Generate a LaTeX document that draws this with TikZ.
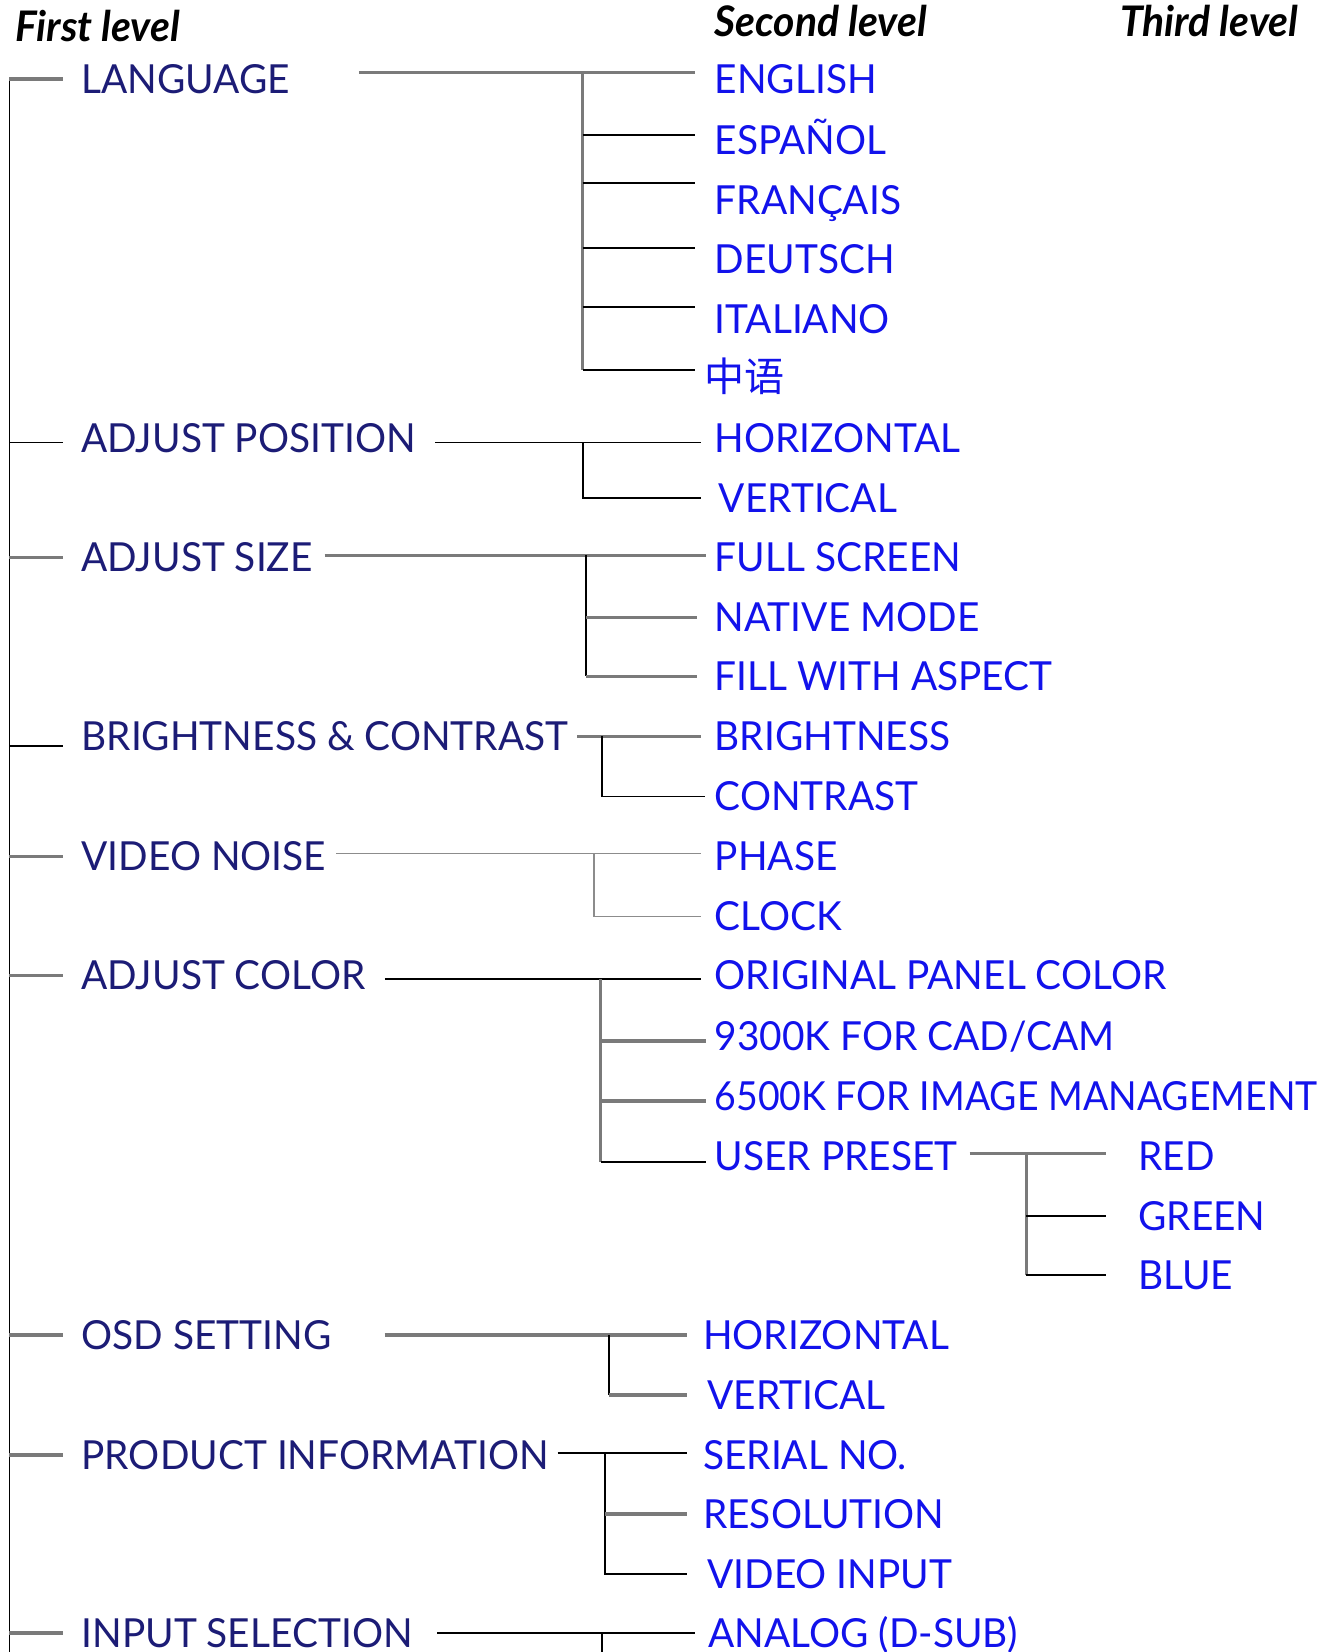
\documentclass[tikz,border=0pt]{standalone}
\usepackage{fontspec}
\setmainfont[FakeStretch=0.97]{Lato}
\newfontfamily\cjk{Noto Sans CJK SC}
\usetikzlibrary{positioning}
\definecolor{navy}{RGB}{28,28,118}
\definecolor{menublue}{RGB}{18,18,235}
\tikzset{
  lvlone/.style={
    anchor=west,
    inner sep=0pt,
    text=navy,
    font=\fontsize{19}{19}\selectfont,
    text height=13.6pt,
    text depth=0pt
  },
  lvltwo/.style={
    lvlone,
    text=menublue
  },
  head/.style={
    anchor=west,
    inner sep=0pt,
    font=\fontsize{20}{20}\selectfont\bfseries\itshape
  },
  gline/.style={draw=black!52, line width=1.6pt},
  bline/.style={draw=black, line width=0.9pt},
  tline/.style={draw=black!45, line width=0.7pt}
}

\begin{document}
\begin{tikzpicture}[x=0.5pt, y=-0.5pt]
\clip (0,0) rectangle (1259,1568);
% --- headings ---
\node[head] (h1) at (14,25) {First level};
\node[head] (h2) at (678,20) {Second level};
\node[head] (h3) at (1063,20) {Third level};

% --- first level ---
\node[lvlone] (lang) at (77,75) {LANGUAGE};
\node[lvlone] (adjpos) at (77,416) {ADJUST POSITION};
\node[lvlone] (adjsize) at (77,529) {ADJUST SIZE};
\node[lvlone] (bc) at (77,699) {BRIGHTNESS \& CONTRAST};
\node[lvlone] (noise) at (77,813) {VIDEO NOISE};
\node[lvlone] (color) at (77,926) {ADJUST COLOR};
\node[lvlone] (osd) at (77,1267) {OSD SETTING};
\node[lvlone] (info) at (77,1381) {PRODUCT INFORMATION};
\node[lvlone] (input) at (77,1550) {INPUT SELECTION};

% --- second level ---
\node[lvltwo] (eng) at (678,75) {ENGLISH};
\node[lvltwo] (esp) at (678,133) {ESPAÑOL};
\node[lvltwo] (fra) at (678,190) {FRANÇAIS};
\node[lvltwo] (deu) at (678,246) {DEUTSCH};
\node[lvltwo] (ita) at (678,303) {ITALIANO};
\node[lvltwo] (chn) at (668,358) {\cjk 中语};
\node[lvltwo] (hor) at (678,416) {HORIZONTAL};
\node[lvltwo] (ver) at (682,473) {VERTICAL};
\node[lvltwo] (full) at (678,529) {FULL SCREEN};
\node[lvltwo] (native) at (678,586) {NATIVE MODE};
\node[lvltwo] (fill) at (678,642) {FILL WITH ASPECT};
\node[lvltwo] (bri) at (678,699) {BRIGHTNESS};
\node[lvltwo] (con) at (678,756) {CONTRAST};
\node[lvltwo] (phase) at (678,813) {PHASE};
\node[lvltwo] (clock) at (678,870) {CLOCK};
\node[lvltwo] (orig) at (678,926) {ORIGINAL PANEL COLOR};
\node[lvltwo] (kcad) at (678,983) {9300K FOR CAD/CAM};
\node[lvltwo] (kimg) at (678,1040) {\addfontfeatures{FakeStretch=0.935}6500K FOR IMAGE MANAGEMENT};
\node[lvltwo] (user) at (678,1097) {USER PRESET};
\node[lvltwo] (osdh) at (667,1267) {HORIZONTAL};
\node[lvltwo] (osdv) at (671,1324) {VERTICAL};
\node[lvltwo] (serial) at (667,1381) {SERIAL NO.};
\node[lvltwo] (res) at (667,1437) {RESOLUTION};
\node[lvltwo] (vin) at (671,1494) {VIDEO INPUT};
\node[lvltwo] (analog) at (672,1550) {ANALOG (D-SUB)};

% --- third level ---
\node[lvltwo] (red) at (1080,1097) {RED};
\node[lvltwo] (green) at (1080,1154) {GREEN};
\node[lvltwo] (blue) at (1080,1210) {BLUE};

% --- junctions ---
\coordinate (trunk) at (9,76);
\coordinate (jlang) at (553,69);
\coordinate (jpos) at (553,420);
\coordinate (jsize) at (556,527);
\coordinate (jbc) at (571,699);
\coordinate (jnoise) at (564,810);
\coordinate (jcolor) at (570,929);
\coordinate (juser) at (974,1095);
\coordinate (josd) at (578,1267);
\coordinate (jinfo) at (574,1379);
\coordinate (jinput) at (571,1550);

% --- trunk and stubs ---
\draw[bline] (trunk) -- ++(0,1540);
\foreach \n in {lang,adjsize,noise,color,osd,info,input}
  \draw[gline] (trunk |- \n.west) -- ([xshift=-8.5pt]\n.west);
\draw[bline] ([yshift=-2pt]trunk |- adjpos.west) -- ([xshift=-8.5pt,yshift=-2pt]adjpos.west);
\draw[bline] ([yshift=-4.5pt]trunk |- bc.west) -- ([xshift=-8.5pt,yshift=-4.5pt]bc.west);

% --- LANGUAGE ---
\draw[gline] ([xshift=32.5pt,yshift=3pt]lang.east) -- ([xshift=-9pt,yshift=3pt]eng.west);
\draw[gline] (jlang) -- ([yshift=3.5pt]jlang |- chn.west);
\foreach \n/\dy in {esp/2.5,fra/8,deu/5.5,ita/6}
  \draw[bline] ([yshift=\dy pt]jlang |- \n.west) -- ([xshift=-9pt,yshift=\dy pt]\n.west);
\draw[bline] ([yshift=3.5pt]jlang |- chn.west) -- ([xshift=-4pt,yshift=3.5pt]chn.west);

% --- ADJUST POSITION ---
\draw[bline] ([xshift=9pt,yshift=-2pt]adjpos.east) -- ([xshift=-6.5pt,yshift=-2pt]hor.west);
\draw[bline] (jpos) |- ([xshift=-8.5pt]ver.west);

% --- ADJUST SIZE ---
\draw[gline] ([xshift=5.5pt,yshift=1pt]adjsize.east) -- ([xshift=-4pt,yshift=1pt]full.west);
\draw[bline] (jsize) -- (jsize |- fill.west);
\foreach \n in {native,fill}
  \draw[gline] (jsize |- \n.west) -- ([xshift=-8pt]\n.west);

% --- BRIGHTNESS & CONTRAST ---
\draw[gline] ([xshift=4pt]bc.east) -- ([xshift=-6.5pt]bri.west);
\draw[bline] (jbc) |- ([xshift=-4.5pt]con.west);

% --- VIDEO NOISE ---
\draw[tline] ([xshift=4.5pt,yshift=1.5pt]noise.east) -- ([xshift=-6.5pt,yshift=1.5pt]phase.west);
\draw[tline] (jnoise) |- ([xshift=-6.5pt]clock.west);

% --- ADJUST COLOR ---
\draw[bline] ([xshift=9pt,yshift=-1.5pt]color.east) -- ([xshift=-6.5pt,yshift=-1.5pt]orig.west);
\draw[gline] (jcolor) -- ([yshift=-3pt]jcolor |- user.west);
\foreach \n in {kcad,kimg}
  \draw[gline] ([yshift=-2.5pt]jcolor |- \n.west) -- ([xshift=-4pt,yshift=-2.5pt]\n.west);
\draw[bline] ([yshift=-3pt]jcolor |- user.west) -- ([xshift=-4pt,yshift=-3pt]user.west);

% --- USER PRESET ---
\draw[gline] ([xshift=5.5pt,yshift=1pt]user.east) -- ([xshift=-15pt,yshift=1pt]red.west);
\draw[gline] (juser) -- (juser |- blue.west);
\foreach \n in {green,blue}
  \draw[bline] (juser |- \n.west) -- ([xshift=-15pt]\n.west);

% --- OSD SETTING ---
\draw[gline] ([xshift=25pt]osd.east) -- ([xshift=-7.5pt]osdh.west);
\draw[bline] (josd) -- (josd |- osdv.west);
\draw[gline] (josd |- osdv.west) -- ([xshift=-9.5pt]osdv.west);

% --- PRODUCT INFORMATION ---
\draw[bline] ([xshift=4pt,yshift=1pt]info.east) -- ([xshift=-7.5pt,yshift=1pt]serial.west);
\draw[bline] (jinfo) |- ([xshift=-9.5pt]vin.west);
\draw[gline] (jinfo |- res.west) -- ([xshift=-7.5pt]res.west);

% --- INPUT SELECTION ---
\draw[bline] ([xshift=11.5pt]input.east) -- ([xshift=-6pt]analog.west);
\draw[bline] (jinput) -- ++(0,40);
\end{tikzpicture}
\end{document}
